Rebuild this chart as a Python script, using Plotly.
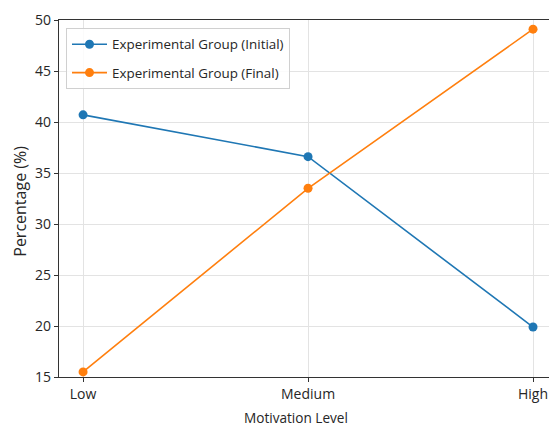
import plotly.graph_objects as go

categories = ["Low", "Medium", "High"]
initial_values = [40.7, 36.6, 19.9]
final_values = [15.5, 33.5, 49.1]
series_names = ["Experimental Group (Initial)", "Experimental Group (Final)"]
colors = ["#1f77b4", "#ff7f0e"]
y_ticks = [15, 20, 25, 30, 35, 40, 45, 50]

FONT = "Open Sans"
TXT = "#262626"

W, H = 549, 427
L, R, T, B = 59, 0, 20, 49.5
PW, PH = W - L - R, H - T - B

fig = go.Figure()
for i, (name, vals) in enumerate(zip(series_names, [initial_values, final_values])):
    fig.add_trace(go.Scatter(
        x=categories, y=vals, mode="lines+markers", name=name,
        line=dict(color=colors[i], width=1.6),
        marker=dict(color=colors[i], size=9),
        legendgroup=f"g{i}", cliponaxis=False,
    ))

fig.update_layout(
    width=W, height=H,
    margin=dict(l=L, r=R, t=T, b=B, autoexpand=False),
    paper_bgcolor="white", plot_bgcolor="white",
    font=dict(family=FONT, size=14, color=TXT),
    showlegend=True,
    legend=dict(
        x=7 / PW, y=1 - 8 / PH, xanchor="left", yanchor="top",
        bgcolor="rgba(255,255,255,0.85)", bordercolor="#d0d0d0", borderwidth=1,
        font=dict(family=FONT, size=13.4, color=TXT),
        traceorder="grouped", tracegroupgap=8,
        itemwidth=35,
    ),
    xaxis=dict(
        type="category", categoryorder="array", categoryarray=categories,
        range=[-0.107, 2.071],
        showline=True, linecolor="#333333", linewidth=1.3, mirror=True,
        ticks="outside", ticklen=4, tickcolor="#333333",
        showgrid=True, gridcolor="#e3e3e3", gridwidth=1,
        tickfont=dict(family=FONT, size=14, color=TXT),
        zeroline=False,
    ),
    yaxis=dict(
        range=[15, 50], tickvals=y_ticks,
        showline=True, linecolor="#333333", linewidth=1.3,
        ticks="outside", ticklen=4, tickcolor="#333333",
        showgrid=True, gridcolor="#e3e3e3", gridwidth=1,
        tickfont=dict(family=FONT, size=14, color=TXT),
        zeroline=False,
    ),
    annotations=[
        dict(
            text="Motivation Level", xref="paper", yref="paper",
            x=(296 - L) / PW, y=-(418 - (T + PH)) / PH,
            xanchor="center", yanchor="middle",
            showarrow=False, font=dict(family=FONT, size=13.6, color=TXT),
        ),
        dict(
            text="Percentage (%)", xref="paper", yref="paper",
            x=(20 - L) / PW, y=1 - (202 - T) / PH, textangle=-90,
            xanchor="center", yanchor="middle",
            showarrow=False, font=dict(family=FONT, size=16, color=TXT),
        ),
    ],
)

fig.write_html(
    "out.html",
    config={"displayModeBar": False},
    post_script="document.body.style.margin='0';document.body.style.overflow='hidden';",
)
